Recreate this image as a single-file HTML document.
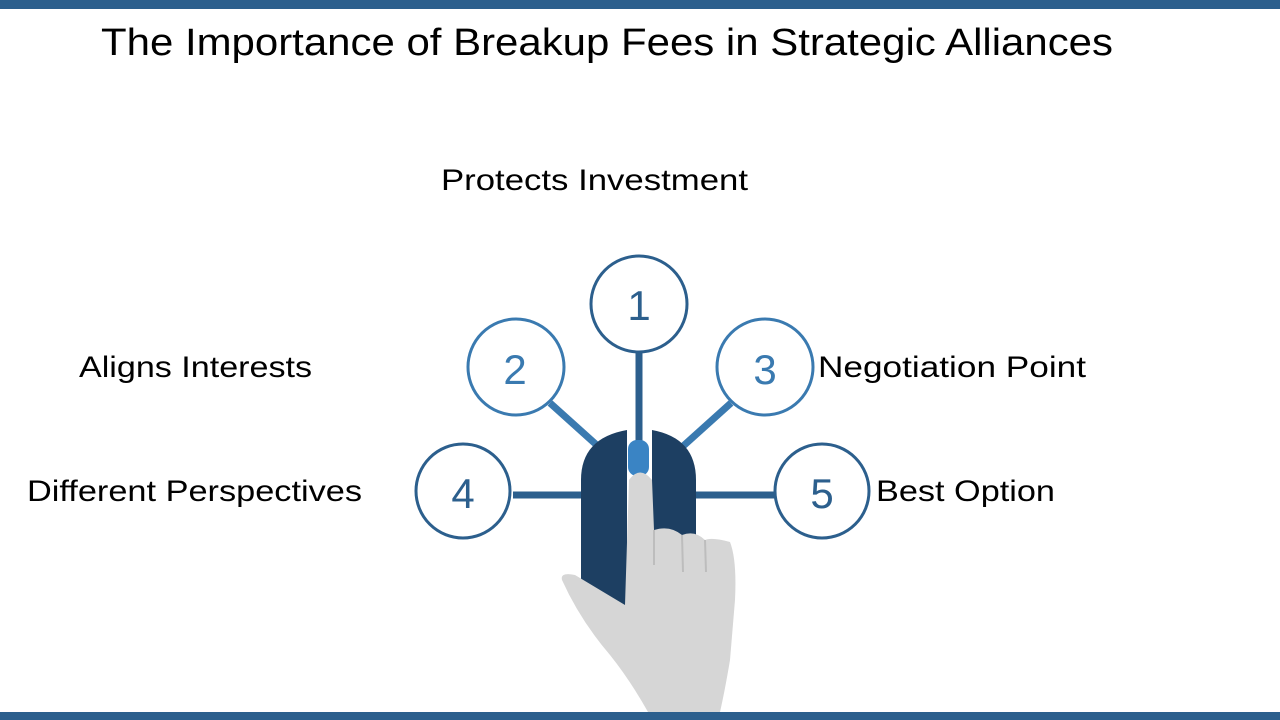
<!DOCTYPE html>
<html><head><meta charset="utf-8"><style>
html,body{margin:0;padding:0;background:#fff;width:1280px;height:720px;overflow:hidden}
svg{display:block}
</style></head><body>
<svg width="1280" height="720" viewBox="0 0 1280 720" xmlns="http://www.w3.org/2000/svg">
<rect x="0" y="0" width="1280" height="9" fill="#2c5f8d"/>
<rect x="0" y="712" width="1280" height="8" fill="#2c5f8d"/>
<text x="101" y="55" font-family="Liberation Sans, sans-serif" font-size="38" fill="#000" textLength="1012" lengthAdjust="spacingAndGlyphs">The Importance of Breakup Fees in Strategic Alliances</text>
<g font-family="Liberation Sans, sans-serif" font-size="30" fill="#000">
<text x="441" y="190" textLength="307" lengthAdjust="spacingAndGlyphs">Protects Investment</text>
<text x="79" y="377" textLength="233" lengthAdjust="spacingAndGlyphs">Aligns Interests</text>
<text x="818" y="377" textLength="268" lengthAdjust="spacingAndGlyphs">Negotiation Point</text>
<text x="27" y="501" textLength="335" lengthAdjust="spacingAndGlyphs">Different Perspectives</text>
<text x="876" y="501" textLength="179" lengthAdjust="spacingAndGlyphs">Best Option</text>
</g>
<!-- connectors -->
<g stroke="#2c5f8d" stroke-width="7">
<line x1="639" y1="352" x2="639" y2="445"/>
<line x1="550" y1="403" x2="600" y2="448" stroke="#3a7ab0"/>
<line x1="731" y1="403" x2="681" y2="448" stroke="#3a7ab0"/>
<line x1="513" y1="495" x2="585" y2="495"/>
<line x1="695" y1="495" x2="775" y2="495"/>
</g>
<!-- mouse -->
<path d="M627 430 Q581 438 581 480 L581 585 Q590 610 627 610 Z" fill="#1d3f62"/>
<path d="M652 430 Q696 438 696 480 L696 535 L652 535 Z" fill="#1d3f62"/>
<rect x="628" y="440" width="21" height="36" rx="9" fill="#3a84c4"/>
<!-- hand -->
<path d="M629 480 Q640 465 652 480 L654 530 Q670 525 682 535 Q695 530 705 540 Q712 537 730 542 Q737 560 735 600 L730 660 Q725 690 720 712 L648 712 Q630 680 610 655 Q580 620 562 580 Q560 572 575 575 Q600 590 625 605 Z" fill="#d6d6d6"/>
<path d="M654 530 L654 565 M682 535 L683 572 M705 540 L706 572" stroke="#bdbdbd" stroke-width="2" fill="none"/>
<!-- circles -->
<g fill="#fff" stroke-width="3">
<circle cx="639" cy="304" r="48" stroke="#2c5f8d"/>
<circle cx="516" cy="367" r="48" stroke="#3a7ab0"/>
<circle cx="765" cy="367" r="48" stroke="#3a7ab0"/>
<circle cx="463" cy="491" r="47" stroke="#2c5f8d"/>
<circle cx="822" cy="491" r="47" stroke="#2c5f8d"/>
</g>
<g font-family="Liberation Sans, sans-serif" font-size="42" text-anchor="middle">
<text x="639" y="320" fill="#2c5f8d">1</text>
<text x="515" y="384" fill="#3a7ab0">2</text>
<text x="765" y="384" fill="#3a7ab0">3</text>
<text x="463" y="508" fill="#2c5f8d">4</text>
<text x="822" y="508" fill="#2c5f8d">5</text>
</g>
</svg>
</body></html>
